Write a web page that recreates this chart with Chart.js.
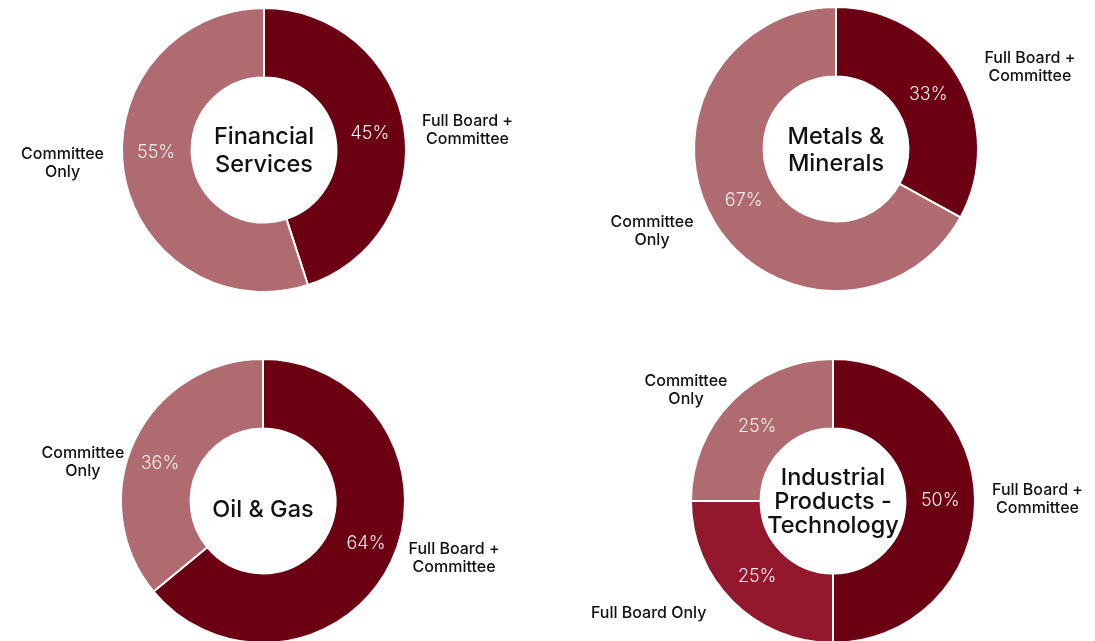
<!DOCTYPE html>
<html>
<head>
<meta charset="utf-8">
<script src="https://cdn.jsdelivr.net/npm/chart.js@4.4.0/dist/chart.umd.min.js"></script>
<style>
    html, body { margin: 0; padding: 0; background: #fff; }
    #wrap { position: relative; width: 1095px; height: 641px; overflow: hidden; }
    #wrap canvas { position: absolute; left: 0; top: 0; }
</style>
</head>
<body>
<div id="wrap">
    <canvas id="c1"></canvas>
    <canvas id="c2"></canvas>
    <canvas id="c3"></canvas>
    <canvas id="c4"></canvas>
</div>
<script>
// data
const sectorTitles = [['Financial', 'Services'], ['Metals &', 'Minerals'], ['Oil & Gas'], ['Industrial', 'Products -', 'Technology']];
const labelsTwo = ['Full Board + Committee', 'Committee Only'];
const labelsThree = ['Full Board + Committee', 'Full Board Only', 'Committee Only'];
const financialValues = [45, 55];
const metalsValues = [33, 67];
const oilGasValues = [64, 36];
const industrialValues = [50, 25, 25];

// colours
const colFullCommittee = '#6c0013';
const colFullOnly = '#93172d';
const colCommitteeOnly = '#b06b71';

const FONT = 'Inter, "Open Sans", sans-serif';
const W = 1095, H = 680;
const R = 143; // half chart area

// label text split into lines
const labelLines = {
    'Full Board + Committee': ['Full Board +', 'Committee'],
    'Committee Only': ['Committee', 'Only'],
    'Full Board Only': ['Full Board Only']
};

const centerTitle = {
    id: 'centerTitle',
    afterDraw(chart, args, opts) {
        const ctx = chart.ctx;
        const arc = chart.getDatasetMeta(0).data[0];
        const lines = opts.lines;
        const lh = opts.lineHeight;
        ctx.save();
        ctx.font = '500 23.5px ' + FONT;
        ctx.fillStyle = '#111';
        ctx.textAlign = 'center';
        ctx.textBaseline = 'middle';
        const y0 = arc.y + (opts.shift || 0) - (lines.length - 1) * lh / 2;
        lines.forEach((l, i) => ctx.fillText(l, arc.x, y0 + i * lh + 1));
        ctx.restore();
    }
};

const sliceLabels = {
    id: 'sliceLabels',
    afterDraw(chart, args, opts) {
        const ctx = chart.ctx;
        const meta = chart.getDatasetMeta(0);
        const ds = chart.data.datasets[0];
        ctx.save();
        meta.data.forEach((arc, i) => {
            const mid = (arc.startAngle + arc.endAngle) / 2;
            const dx = Math.cos(mid), dy = Math.sin(mid);
            const ps = (opts.pctShift || [])[i] || [0, 0];
            const ls = (opts.labelShift || [])[i] || [0, 0];
            // percentage inside ring
            const rm = (arc.innerRadius + arc.outerRadius) / 2;
            ctx.font = '300 18px ' + FONT;
            ctx.fillStyle = '#f4eced';
            ctx.textAlign = 'center';
            ctx.textBaseline = 'middle';
            ctx.fillText(ds.data[i] + '%', arc.x + dx * rm + ps[0], arc.y + dy * rm + ps[1]);

            // category label outside ring
            const lines = labelLines[chart.data.labels[i]];
            const ro = arc.outerRadius + 20;
            const ax = arc.x + dx * ro + ls[0], ay = arc.y + dy * ro + ls[1];
            ctx.font = '500 16px ' + FONT;
            ctx.fillStyle = '#111';
            const bw = Math.max(...lines.map(l => ctx.measureText(l).width));
            let cx = ax;
            if (dx > 0.3) cx = ax + bw / 2;
            else if (dx < -0.3) cx = ax - bw / 2;
            const lh = 18;
            const y0 = ay - (lines.length - 1) * lh / 2;
            lines.forEach((l, k) => ctx.fillText(l, cx, y0 + k * lh));
        });
        ctx.restore();
    }
};

function makeDoughnut(id, cx, cy, labels, values, colors, title, look) {
    const canvas = document.getElementById(id);
    canvas.width = W;
    canvas.height = H;
    canvas.style.width = W + 'px';
    canvas.style.height = H + 'px';
    return new Chart(canvas.getContext('2d'), {
        type: 'doughnut',
        data: {
            labels: labels,
            datasets: [{
                data: values,
                backgroundColor: colors,
                borderColor: '#ffffff',
                borderWidth: 2
            }]
        },
        options: {
            responsive: false,
            animation: false,
            cutout: '51%',
            layout: {
                padding: { left: cx - R, right: W - cx - R, top: cy - R, bottom: H - cy - R }
            },
            plugins: {
                legend: { display: false },
                tooltip: { enabled: false },
                centerTitle: { lines: title, lineHeight: look.lh, shift: look.titleShift },
                sliceLabels: { pctShift: look.pct, labelShift: look.lab }
            }
        },
        plugins: [centerTitle, sliceLabels]
    });
}

makeDoughnut('c1', 264, 150, labelsTwo, financialValues,
    [colFullCommittee, colCommitteeOnly], sectorTitles[0],
    { lh: 28, pct: [[0, 0], [-2, -14]], lab: [[-2, 6], [0, -12]] });
makeDoughnut('c2', 836, 149, labelsTwo, metalsValues,
    [colFullCommittee, colCommitteeOnly], sectorTitles[1],
    { lh: 27, pct: [[0, 0], [0, -3]], lab: [[9, 1], [-3, 0]] });
makeDoughnut('c3', 263, 501, labelsTwo, oilGasValues,
    [colFullCommittee, colCommitteeOnly], sectorTitles[2],
    { lh: 28, titleShift: 8, pct: [[6, -3], [-6, 8]], lab: [[-1, -12], [8, 30]] });
makeDoughnut('c4', 833, 501, labelsThree, industrialValues,
    [colFullCommittee, colFullOnly, colCommitteeOnly], sectorTitles[3],
    { lh: 24, pct: [[0, 0], [0, 0], [0, 1]], lab: [[-3, -2], [-12, -2], [9, 4]] });
</script>
</body>
</html>
